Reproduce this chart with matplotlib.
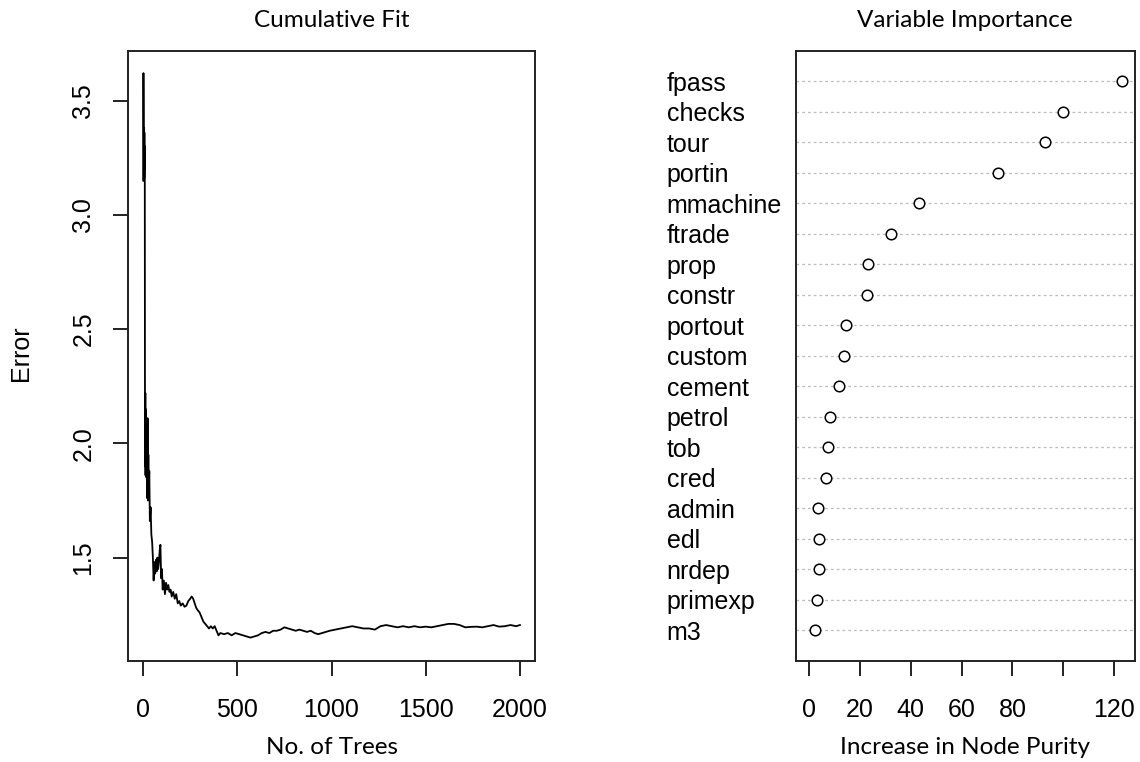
import matplotlib
matplotlib.use("Agg")
import matplotlib.pyplot as plt

# ---- cumulative fit (error vs number of trees) ----
trees = [1, 2, 3, 4, 5, 6, 7, 8, 9, 10, 11, 12, 13, 14, 15, 16, 18, 20, 22, 24,
         26, 28, 30, 33, 36, 40, 44, 48, 52, 56, 60, 64, 68, 72, 76, 80, 84, 88,
         92, 96, 100, 104, 110, 116, 122, 128, 134, 140, 146, 152, 160, 168, 176,
         184, 192, 200, 210, 220, 230, 240, 250, 258, 266, 274, 282, 290, 300,
         310, 320, 330, 340, 350, 360, 370, 380, 390, 400, 410, 430, 450, 470,
         490, 510, 530, 550, 570, 590, 610, 630, 650, 670, 690, 710, 730, 750,
         770, 790, 810, 830, 850, 870, 890, 910, 930, 950, 970, 990, 1020, 1050,
         1080, 1110, 1140, 1170, 1200, 1230, 1260, 1290, 1320, 1350, 1380, 1410,
         1440, 1470, 1500, 1530, 1560, 1590, 1620, 1650, 1680, 1710, 1740, 1770,
         1800, 1830, 1860, 1890, 1920, 1950, 1980, 2000]
error = [3.15, 3.62, 3.39, 3.15, 3.38, 3.16, 3.36, 3.2, 3.3, 2.24, 1.9, 2.22,
         1.86, 2.15, 1.88, 2.1, 1.85, 2.05, 1.76, 2.11, 1.75, 1.95, 1.78, 1.88,
         1.66, 1.72, 1.6, 1.57, 1.5, 1.40, 1.48, 1.43, 1.49, 1.44, 1.5, 1.45,
         1.48, 1.53, 1.556, 1.41, 1.45, 1.36, 1.40, 1.34, 1.39, 1.36, 1.38, 1.35,
         1.36, 1.33, 1.35, 1.32, 1.34, 1.30, 1.31, 1.29, 1.30, 1.285, 1.29, 1.31,
         1.32, 1.33, 1.32, 1.30, 1.28, 1.27, 1.26, 1.24, 1.22, 1.21, 1.20, 1.19,
         1.20, 1.19, 1.20, 1.18, 1.16, 1.17, 1.165, 1.17, 1.16, 1.17, 1.165, 1.16,
         1.155, 1.15, 1.155, 1.16, 1.17, 1.175, 1.17, 1.18, 1.18, 1.185, 1.195,
         1.19, 1.185, 1.18, 1.185, 1.18, 1.175, 1.18, 1.17, 1.165, 1.17, 1.175,
         1.18, 1.185, 1.19, 1.195, 1.20, 1.195, 1.19, 1.19, 1.185, 1.20, 1.205,
         1.20, 1.195, 1.20, 1.195, 1.20, 1.195, 1.198, 1.195, 1.20, 1.205, 1.21,
         1.21, 1.205, 1.195, 1.197, 1.198, 1.195, 1.20, 1.205, 1.198, 1.20, 1.205,
         1.20, 1.205]
x_ticks = [0, 500, 1000, 1500, 2000]
y_ticks = [1.5, 2.0, 2.5, 3.0, 3.5]

# ---- variable importance ----
variables = ["fpass", "checks", "tour", "portin", "mmachine", "ftrade", "prop",
             "constr", "portout", "custom", "cement", "petrol", "tob", "cred",
             "admin", "edl", "nrdep", "primexp", "m3"]
purity = [123.0, 100.0, 93.0, 74.5, 43.3, 32.4, 23.4, 22.7, 14.6, 13.9, 11.9,
          8.1, 7.6, 6.9, 3.7, 3.8, 3.8, 3.0, 2.4]
imp_ticks = [0, 20, 40, 60, 80, 100, 120]
imp_ticklabels = ["0", "20", "40", "60", "80", "", "120"]

W, H = 1140, 762
fig = plt.figure(figsize=(W / 100, H / 100), dpi=100)
tick_font = "Liberation Sans"
head_font = "Lato"

ax1 = fig.add_axes([128 / W, (H - 660.7) / H, (535 - 128) / W, 610 / H])
ax2 = fig.add_axes([795.7 / W, (H - 660.7) / H, (1134.5 - 795.7) / W, 610 / H])

for ax in (ax1, ax2):
    for s in ax.spines.values():
        s.set_linewidth(1.4)
        s.set_color("#222222")

# left panel
ax1.plot(trees, error, color="black", lw=1.3)
ax1.set_xlim(-80, 2080)
ax1.set_ylim(1.049, 3.718)
ax1.set_xticks(x_ticks)
ax1.set_xticklabels([str(t) for t in x_ticks], fontsize=18, family=tick_font)
ax1.set_yticks(y_ticks)
ax1.set_yticklabels([f"{t:.1f}" for t in y_ticks], fontsize=18,
                    family=tick_font, rotation=90, va="center")
ax1.tick_params(axis="both", length=10.5, width=1.4, color="#222222")
ax1.tick_params(axis="x", pad=16)
ax1.tick_params(axis="y", pad=13)
ax1.set_title("Cumulative Fit", fontsize=17.5, family=head_font, y=1.0487,
              va="center", pad=0)
ax1.set_xlabel("No. of Trees", fontsize=17.5, family=head_font)
ax1.xaxis.set_label_coords(0.5, -0.143)
ax1.xaxis.label.set_va("center")
ax1.set_ylabel("Error", fontsize=18, family=tick_font)
ax1.yaxis.set_label_coords(-0.263, 0.504)
ax1.yaxis.label.set_va("center")

# right panel (dotchart)
rows = list(range(len(variables), 0, -1))
for r in rows:
    ax2.axhline(r, color="#bdbdbd", lw=0.9, linestyle=(0, (2.2, 2.4)), zorder=1)
ax2.plot(purity, rows, "o", markerfacecolor="white", markeredgecolor="black",
         markersize=7.6, markeredgewidth=1.1, zorder=3)
ax2.set_xlim(-5.2, 128.0)
ax2.set_ylim(0, len(variables) + 1)
ax2.set_xticks(imp_ticks)
ax2.set_xticklabels(imp_ticklabels, fontsize=18, family=tick_font)
ax2.set_yticks(rows)
ax2.set_yticklabels(variables, fontsize=18, family=tick_font, ha="left")
ax2.tick_params(axis="y", length=0, pad=93)
ax2.tick_params(axis="x", length=10.5, width=1.4, color="#222222", pad=16)
ax2.set_title("Variable Importance", fontsize=17.5, family=head_font, y=1.0487,
              va="center", pad=0)
ax2.set_xlabel("Increase in Node Purity", fontsize=17.5, family=head_font)
ax2.xaxis.set_label_coords(0.5, -0.143)
ax2.xaxis.label.set_va("center")

fig.savefig("out.png", dpi=100)
